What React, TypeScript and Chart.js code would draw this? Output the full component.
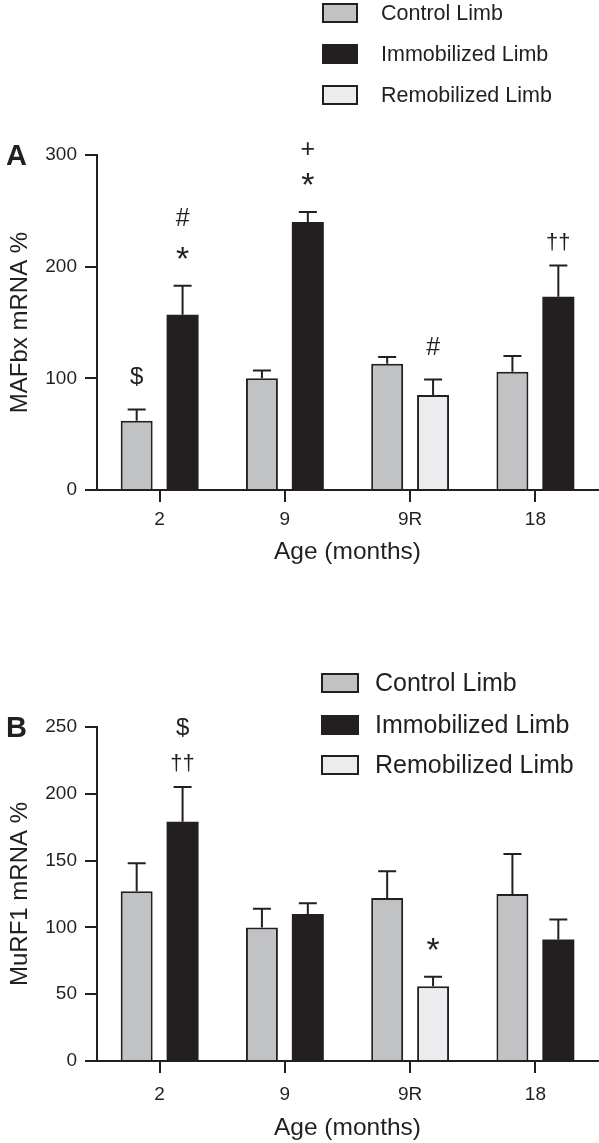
import React, { useEffect, useRef } from 'react';
import { Chart, registerables } from 'chart.js';

Chart.register(...registerables);

// ---------- data ----------
const categories = ['2', '9', '9R', '18'];
const seriesNames = ['Control Limb', 'Immobilized Limb', 'Remobilized Limb'];
const xTitle = 'Age (months)';

// Panel A: MAFbx
const mafbxTicks = [0, 100, 200, 300];
const mafbxControl = [62, 100, 113, 106];
const mafbxImmobilized = [157, 240, null, 173];
const mafbxRemobilized = [null, null, 85, null];
const mafbxControlErr = [10, 7, 6, 14];
const mafbxImmobilizedErr = [26, 9, null, 28];
const mafbxRemobilizedErr = [null, null, 14, null];
const mafbxControlMarks = [['$'], [], [], []];
const mafbxImmobilizedMarks = [['*', '#'], ['*', '+'], [], ['††']];
const mafbxRemobilizedMarks = [[], [], ['#'], []];

// Panel B: MuRF1
const murf1Ticks = [0, 50, 100, 150, 200, 250];
const murf1Control = [127, 100, 122, 125];
const murf1Immobilized = [179, 110, null, 91];
const murf1Remobilized = [null, null, 56, null];
const murf1ControlErr = [21, 14, 20, 30];
const murf1ImmobilizedErr = [26, 8, null, 15];
const murf1RemobilizedErr = [null, null, 7, null];
const murf1ControlMarks = [[], [], [], []];
const murf1ImmobilizedMarks = [['††', '$'], [], [], []];
const murf1RemobilizedMarks = [[], [], ['*'], []];

// ---------- styles ----------
const INK = '#231f20';
const CONTROL_FILL = '#c1c2c4';
const REMOB_FILL = '#ebecee';
const FONT = '"Liberation Sans", Arial, Helvetica, sans-serif';
const SYMBOL_SIZE: Record<string, number> = { '*': 34, '#': 25, '$': 24, '+': 25, '††': 22 };
// distance (px) of a symbol's centre above the previous element
const SYMBOL_GAP_FIRST: Record<string, number> = { '*': 33, '#': 33, '$': 33, '+': 33, '††': 24 };
const SYMBOL_GAP_NEXT: Record<string, number> = { '*': 36, '#': 36, '$': 36, '+': 30, '††': 36 };

type Panel = {
  letter: string;
  yTitle: string;
  yMax: number;
  ticks: number[];
  values: (number | null)[][];
  errors: (number | null)[][];
  marks: string[][][];
  top: number;
  height: number;
  areaTop: number;
  areaBottom: number;
  labelPad: number;
  titlePadBottom: number;
  letterY: number;
  legend: { boxX: number; boxW: number; boxH: number; rows: number[]; textX: number; font: number };
};

const panels: Panel[] = [
  {
    letter: 'A',
    yTitle: 'MAFbx mRNA %',
    yMax: 300,
    ticks: mafbxTicks,
    values: [mafbxControl, mafbxImmobilized, mafbxRemobilized],
    errors: [mafbxControlErr, mafbxImmobilizedErr, mafbxRemobilizedErr],
    marks: [mafbxControlMarks, mafbxImmobilizedMarks, mafbxRemobilizedMarks],
    top: 0,
    height: 575,
    areaTop: 155,
    areaBottom: 490,
    labelPad: 6,
    titlePadBottom: 8,
    letterY: 157,
    legend: { boxX: 322, boxW: 36, boxH: 20, rows: [13, 54, 95], textX: 381, font: 21.5 },
  },
  {
    letter: 'B',
    yTitle: 'MuRF1 mRNA %',
    yMax: 250,
    ticks: murf1Ticks,
    values: [murf1Control, murf1Immobilized, murf1Remobilized],
    errors: [murf1ControlErr, murf1ImmobilizedErr, murf1RemobilizedErr],
    marks: [murf1ControlMarks, murf1ImmobilizedMarks, murf1RemobilizedMarks],
    top: 575,
    height: 568,
    areaTop: 152,
    areaBottom: 486,
    labelPad: 10,
    titlePadBottom: 0,
    letterY: 154,
    legend: { boxX: 321, boxW: 38, boxH: 20, rows: [108, 150, 190], textX: 375, font: 25 },
  },
];

function makePlugin(p: Panel) {
  return {
    id: 'panelDeco' + p.letter,
    afterDatasetsDraw(chart: any) {
      const ctx = chart.ctx as CanvasRenderingContext2D;
      const yScale = chart.scales.y;
      ctx.save();
      ctx.strokeStyle = INK;
      ctx.lineWidth = 2;
      p.values.forEach((vals, di) => {
        const meta = chart.getDatasetMeta(di);
        vals.forEach((v, i) => {
          const e = p.errors[di][i];
          if (v == null || e == null) return;
          const bar = meta.data[i];
          if (!bar) return;
          const x = bar.x;
          const y0 = yScale.getPixelForValue(v);
          const y1 = yScale.getPixelForValue(v + e);
          // error bar (upper half) with cap
          ctx.beginPath();
          ctx.moveTo(x, y0);
          ctx.lineTo(x, y1);
          ctx.moveTo(x - 9, y1);
          ctx.lineTo(x + 9, y1);
          ctx.stroke();
          // significance marks, stacked upwards
          ctx.fillStyle = INK;
          ctx.textAlign = 'center';
          ctx.textBaseline = 'alphabetic';
          let cy = y1;
          p.marks[di][i].forEach((s, k) => {
            cy -= k === 0 ? (SYMBOL_GAP_FIRST[s] ?? 33) : (SYMBOL_GAP_NEXT[s] ?? 36);
            const size = SYMBOL_SIZE[s] || 24;
            ctx.font = `${size}px ${FONT}`;
            const m = ctx.measureText(s);
            const asc = m.actualBoundingBoxAscent;
            const desc = m.actualBoundingBoxDescent;
            ctx.fillText(s, x, cy + (asc - desc) / 2);
          });
        });
      });
      ctx.restore();
    },
    afterDraw(chart: any) {
      const ctx = chart.ctx as CanvasRenderingContext2D;
      ctx.save();
      // panel letter
      ctx.fillStyle = INK;
      ctx.font = `bold 29px ${FONT}`;
      ctx.textAlign = 'left';
      ctx.textBaseline = 'middle';
      ctx.fillText(p.letter, 6, p.letterY);
      // legend
      const L = p.legend;
      chart.data.datasets.forEach((ds: any, i: number) => {
        const cy = L.rows[i];
        const y = cy - L.boxH / 2;
        ctx.fillStyle = ds.backgroundColor;
        ctx.fillRect(L.boxX, y, L.boxW, L.boxH);
        ctx.strokeStyle = INK;
        ctx.lineWidth = 2;
        ctx.strokeRect(L.boxX + 1, y + 1, L.boxW - 2, L.boxH - 2);
        ctx.fillStyle = INK;
        ctx.font = `${L.font}px ${FONT}`;
        ctx.textBaseline = 'middle';
        ctx.fillText(ds.label, L.textX, cy + 1);
      });
      ctx.restore();
    },
  };
}

function PanelChart({ p }: { p: Panel }) {
  const ref = useRef<HTMLCanvasElement | null>(null);
  useEffect(() => {
    if (!ref.current) return;
    const chart = new Chart(ref.current, {
      type: 'bar',
      data: {
        labels: categories,
        datasets: [
          { label: seriesNames[0], data: p.values[0], backgroundColor: CONTROL_FILL, borderColor: INK, borderWidth: 2, stack: 'left' },
          { label: seriesNames[1], data: p.values[1], backgroundColor: INK, borderColor: INK, borderWidth: 0, stack: 'right' },
          { label: seriesNames[2], data: p.values[2], backgroundColor: REMOB_FILL, borderColor: INK, borderWidth: 2, stack: 'right' },
        ] as any,
      },
      options: {
        responsive: false,
        animation: false,
        devicePixelRatio: 1,
        categoryPercentage: 0.733,
        barPercentage: 0.696,
        layout: { padding: { top: p.areaTop, left: 0, right: 1, bottom: 0 } },
        plugins: { legend: { display: false }, tooltip: { enabled: false }, title: { display: false } },
        scales: {
          x: {
            afterFit: (s: any) => { s.height = p.height - p.areaBottom; },
            grid: { offset: false, drawOnChartArea: false, drawTicks: true, tickLength: 12, lineWidth: 2, color: INK },
            border: { display: true, color: INK, width: 2 },
            ticks: { color: INK, font: { family: FONT, size: 19 }, padding: p.labelPad },
            title: { display: true, text: xTitle, color: INK, font: { family: FONT, size: 24.5 }, padding: { top: 0, bottom: p.titlePadBottom } },
          },
          y: {
            min: 0,
            max: p.yMax,
            afterBuildTicks: (s: any) => { s.ticks = p.ticks.map((v) => ({ value: v })); },
            afterFit: (s: any) => { s.width = 97; },
            grid: { drawOnChartArea: false, drawTicks: true, tickLength: 12, lineWidth: 2, color: INK },
            border: { display: true, color: INK, width: 2 },
            ticks: { color: INK, font: { family: FONT, size: 19 }, padding: 8 },
            title: { display: true, text: p.yTitle, color: INK, font: { family: FONT, size: 24 }, padding: { top: 6, bottom: 0 } },
          },
        },
      } as any,
      plugins: [makePlugin(p)],
    });
    return () => chart.destroy();
  }, [p]);
  return (
    <canvas
      ref={ref}
      width={599}
      height={p.height}
      style={{ position: 'absolute', left: 0, top: p.top, width: 599, height: p.height, display: 'block' }}
    />
  );
}

export default function App() {
  return (
    <div style={{ position: 'absolute', left: 0, top: 0, width: 599, height: 1143, background: '#fff', overflow: 'hidden' }}>
      {panels.map((p) => (
        <PanelChart key={p.letter} p={p} />
      ))}
    </div>
  );
}
